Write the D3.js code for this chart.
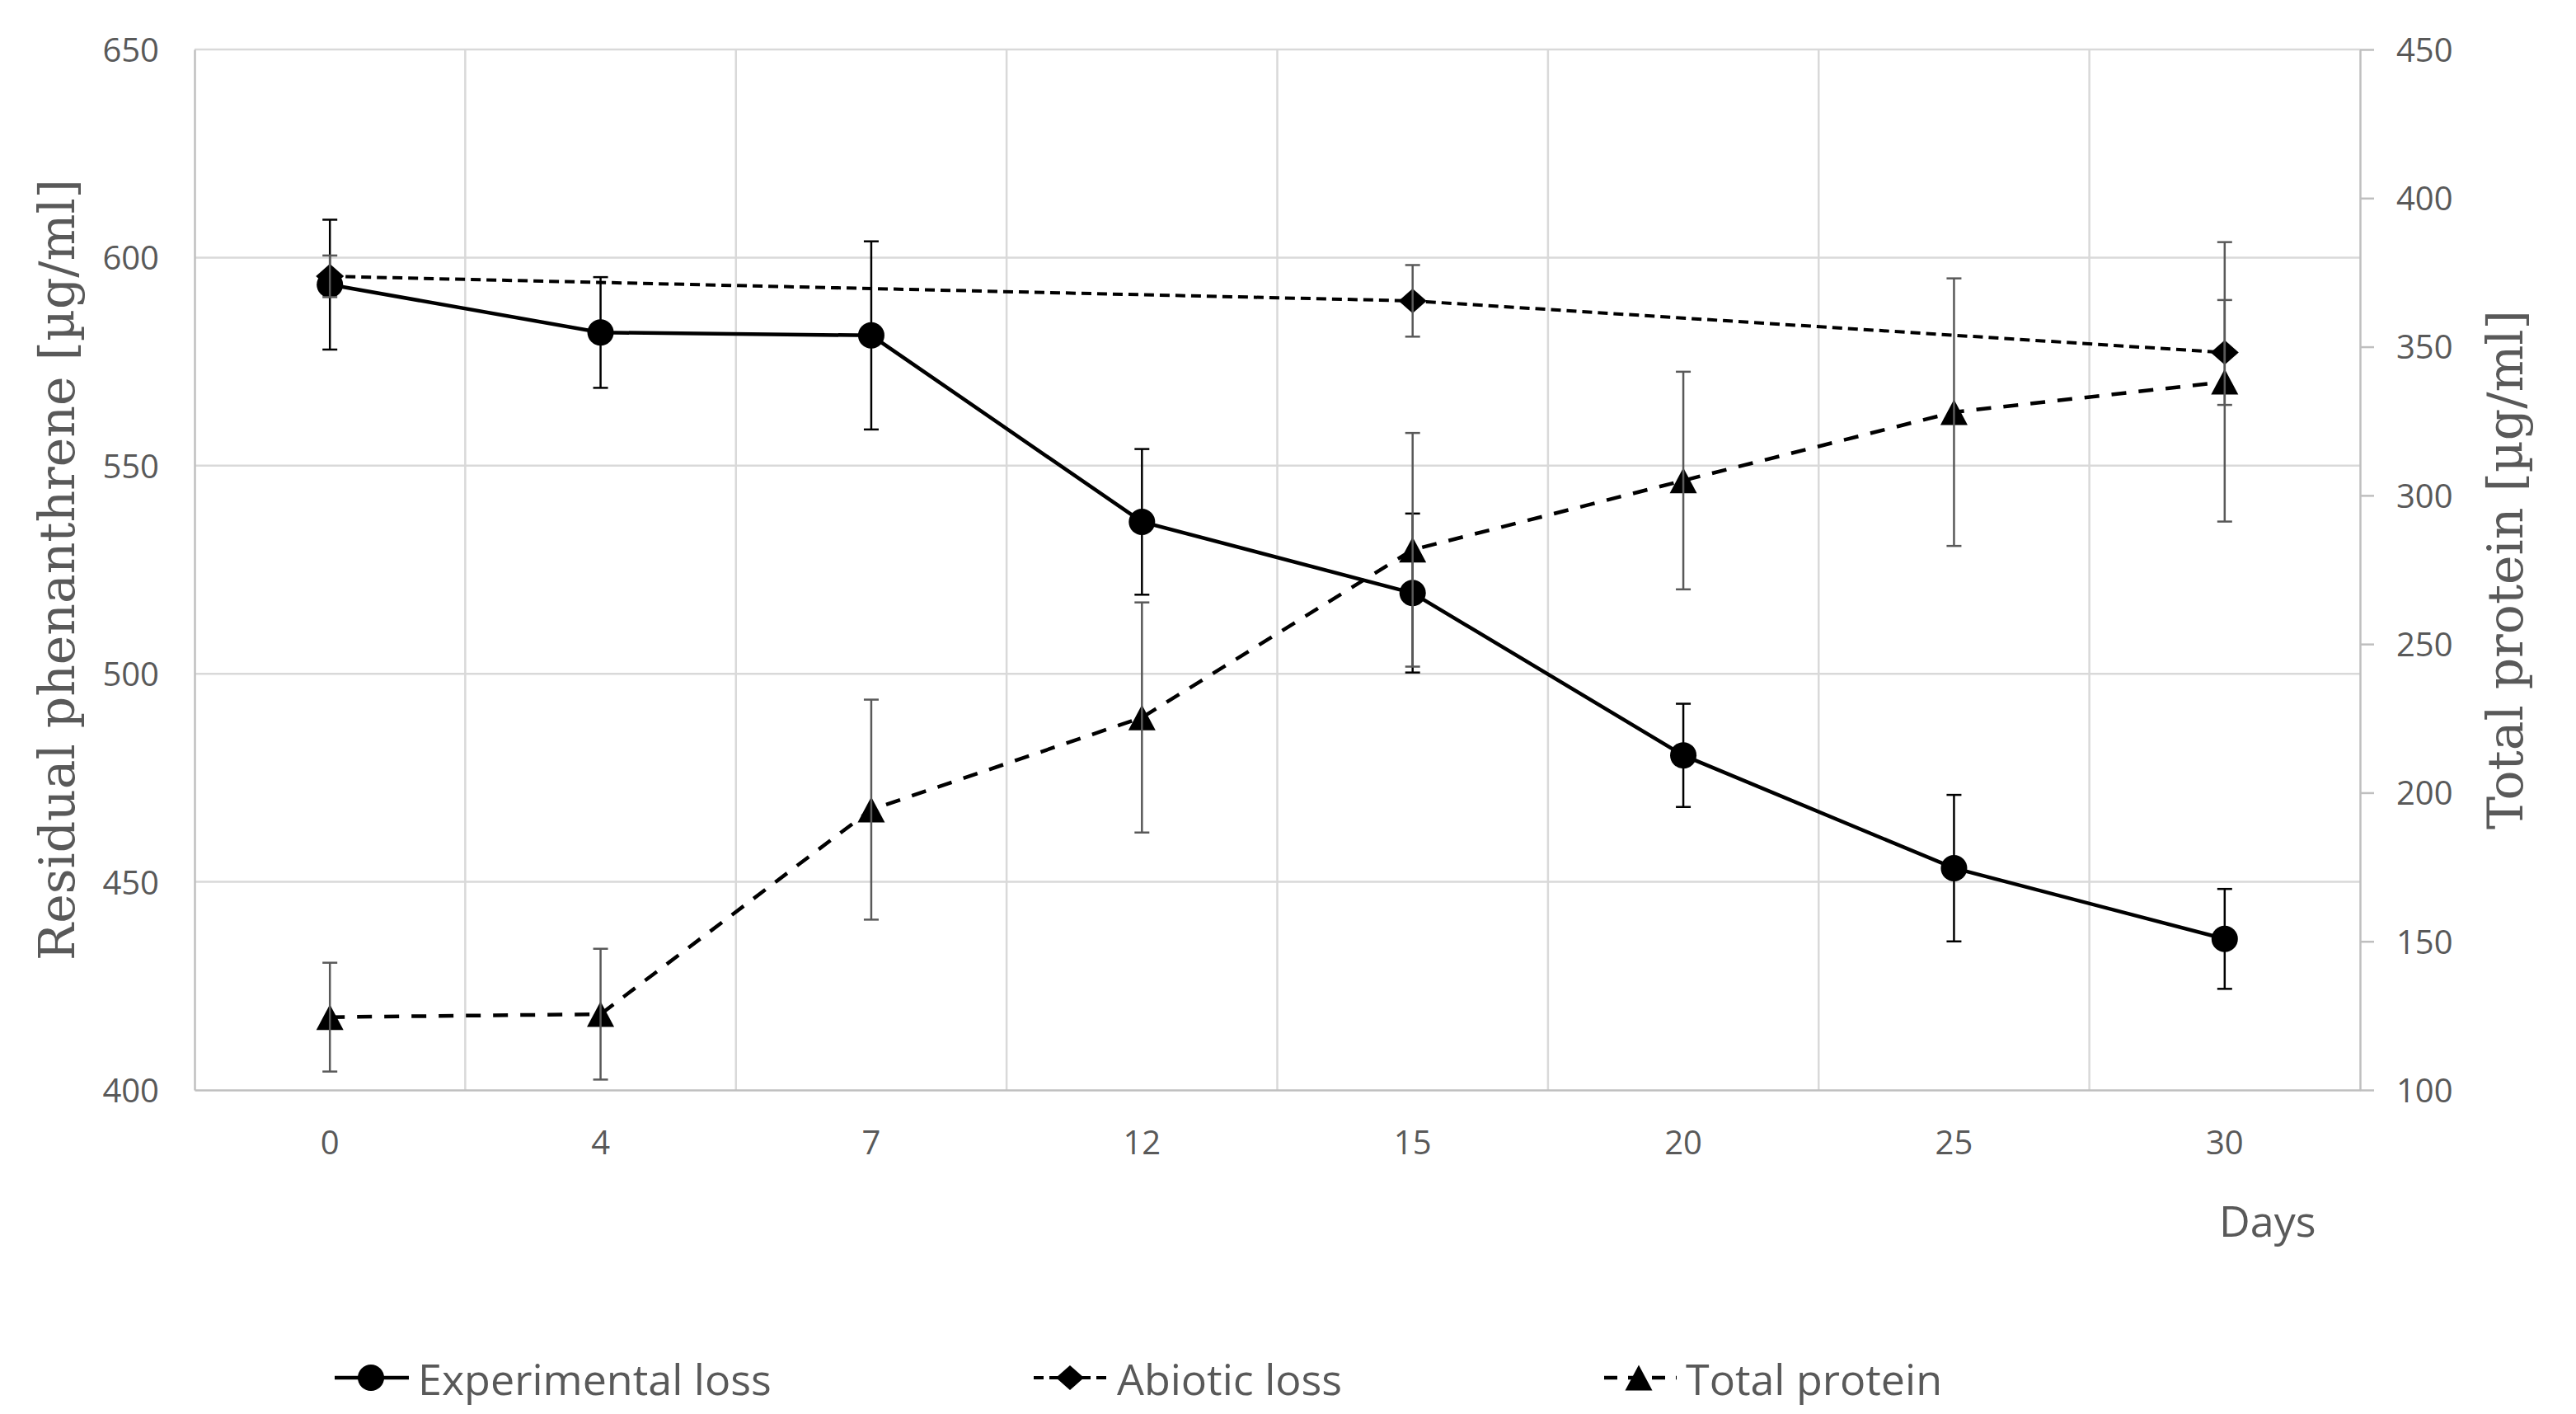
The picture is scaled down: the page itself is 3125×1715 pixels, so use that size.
<!DOCTYPE html>
<html>
<head>
<meta charset="utf-8">
<script src="https://cdn.jsdelivr.net/npm/d3@7"></script>
<style>
  html, body { margin: 0; padding: 0; background: #fff; }
  svg { display: block; }
</style>
</head>
<body>
<svg id="chart" width="3125" height="1715"></svg>
<script>
// ---------- data ----------
const days = ["0", "4", "7", "12", "15", "20", "25", "30"];
const experimentalLoss    = [593.5, 582, 581.3, 536.5, 519.4, 480.4, 453.3, 436.3];
const experimentalLossErr = [15.6, 13.3, 22.6, 17.5, 19.1, 12.4, 17.6, 12.0];
const abioticLoss    = [595.5, null, null, null, 589.6, null, null, 577.2];
const abioticLossErr = [5.0, null, null, null, 8.6, null, null, 12.6];
const totalProtein    = [124.5, 125.5, 194.3, 225.3, 281.7, 305.0, 328.0, 338.2];
const totalProteinErr = [18.3, 22.0, 37.0, 38.7, 39.3, 36.6, 45.0, 47.0];
const leftTicks  = [400, 450, 500, 550, 600, 650];
const rightTicks = [100, 150, 200, 250, 300, 350, 400, 450];
const legendNames = ["Experimental loss", "Abiotic loss", "Total protein"];
const leftTitle  = "Residual phenanthrene [µg/ml]";
const rightTitle = "Total protein [µg/ml]";
const xTitle = "Days";

// ---------- layout ----------
const L = 236, R = 2863, T = 60, B = 1322;
const grey = "#595959", axisCol = "#bfbfbf", gridCol = "#d9d9d9";
const tickFont = "'Open Sans', 'Noto Sans', sans-serif";
const serif = "'DejaVu Serif', serif";

const svg = d3.select("#chart");
const x = d3.scaleBand().domain(days).range([L, R]).padding(0);
const cx = d => x(d) + x.bandwidth() / 2;
const yL = d3.scaleLinear().domain([400, 650]).range([B, T]);
const yR = d3.scaleLinear().domain([100, 450]).range([B, T]);

// gridlines
const grid = svg.append("g");
grid.selectAll(".hg").data(leftTicks.slice(1)).join("line")
  .attr("x1", L).attr("x2", R)
  .attr("y1", d => yL(d)).attr("y2", d => yL(d))
  .attr("stroke", gridCol).attr("stroke-width", 2.5);
grid.selectAll(".vg").data(days.slice(1)).join("line")
  .attr("x1", d => x(d)).attr("x2", d => x(d))
  .attr("y1", T).attr("y2", B)
  .attr("stroke", gridCol).attr("stroke-width", 2.5);

// left axis
const gLeft = svg.append("g").attr("transform", `translate(${L},0)`)
  .call(d3.axisLeft(yL).tickValues(leftTicks).tickSize(0).tickPadding(43));
gLeft.select(".domain").attr("stroke", axisCol).attr("stroke-width", 2.5);
gLeft.selectAll("text").attr("font-family", tickFont).attr("font-size", 40)
  .attr("fill", grey).attr("dy", "0.36em");

// right axis
const gRight = svg.append("g").attr("transform", `translate(${R},0)`)
  .call(d3.axisRight(yR).tickValues(rightTicks).tickSize(17).tickSizeOuter(0).tickPadding(27));
gRight.select(".domain").attr("stroke", axisCol).attr("stroke-width", 2.5);
gRight.selectAll(".tick line").attr("stroke", axisCol).attr("stroke-width", 2.5);
gRight.selectAll("text").attr("font-family", tickFont).attr("font-size", 40)
  .attr("fill", grey).attr("dy", "0.36em");

// bottom axis
const gBottom = svg.append("g").attr("transform", `translate(0,${B})`)
  .call(d3.axisBottom(x).tickSize(0).tickSizeOuter(0));
gBottom.select(".domain").attr("stroke", axisCol).attr("stroke-width", 2.5);
gBottom.selectAll("text").attr("font-family", tickFont).attr("font-size", 40)
  .attr("fill", grey).attr("dy", null).attr("y", 78);

// axis titles
svg.append("text").text(leftTitle)
  .attr("transform", `translate(90,${(T + B) / 2}) rotate(-90)`)
  .attr("text-anchor", "middle").attr("font-family", serif).attr("font-size", 60).attr("fill", grey);
svg.append("text").text(rightTitle)
  .attr("transform", `translate(3060,${(T + B) / 2}) rotate(-90)`)
  .attr("text-anchor", "middle").attr("font-family", serif).attr("font-size", 60).attr("fill", grey);
svg.append("text").text(xTitle)
  .attr("x", 2692).attr("y", 1500)
  .attr("font-family", tickFont).attr("font-size", 52).attr("fill", grey);

// marker shapes
const circlePath = "M0,-16A16,16 0 1,1 0,16A16,16 0 1,1 0,-16Z";
const diamondPath = "M0,-15L17,0L0,15L-17,0Z";
const trianglePath = "M0,-15.5L16.5,15.5L-16.5,15.5Z";

function drawSeries(values, errs, yScale, opts) {
  const g = svg.append("g");
  const pts = days.map((d, i) => ({ d, v: values[i], e: errs[i] })).filter(p => p.v != null);
  const line = d3.line().x(p => cx(p.d)).y(p => yScale(p.v));
  g.append("path").attr("d", line(pts)).attr("fill", "none")
    .attr("stroke", "#000").attr("stroke-width", opts.width)
    .attr("stroke-dasharray", opts.dash || null);
  g.selectAll(".m").data(pts).join("path")
    .attr("d", opts.marker)
    .attr("transform", p => `translate(${cx(p.d)},${yScale(p.v)})`)
    .attr("fill", "#000");
  const eb = g.selectAll(".eb").data(pts).join("g");
  eb.append("line")
    .attr("x1", p => cx(p.d)).attr("x2", p => cx(p.d))
    .attr("y1", p => yScale(p.v + p.e)).attr("y2", p => yScale(p.v - p.e))
    .attr("stroke", opts.errCol).attr("stroke-width", 2.5);
  [1, -1].forEach(s => {
    eb.append("line")
      .attr("x1", p => cx(p.d) - 9).attr("x2", p => cx(p.d) + 9)
      .attr("y1", p => yScale(p.v + s * p.e)).attr("y2", p => yScale(p.v + s * p.e))
      .attr("stroke", opts.errCol).attr("stroke-width", 2.5);
  });
}

const styles = [
  { width: 4.5, dash: null, marker: circlePath, errCol: "#000" },
  { width: 4, dash: "12,7", marker: diamondPath, errCol: grey },
  { width: 4.5, dash: "18,15", marker: trianglePath, errCol: grey }
];
drawSeries(experimentalLoss, experimentalLossErr, yL, styles[0]);
drawSeries(abioticLoss, abioticLossErr, yL, styles[1]);
drawSeries(totalProtein, totalProteinErr, yR, styles[2]);

// legend
const legendX = [406, 1254, 1944];
const legendY = 1671;
const lg = svg.append("g");
legendNames.forEach((name, i) => {
  const st = styles[i];
  const x0 = legendX[i];
  lg.append("line").attr("x1", x0).attr("x2", x0 + 90)
    .attr("y1", legendY).attr("y2", legendY)
    .attr("stroke", "#000").attr("stroke-width", st.width)
    .attr("stroke-dasharray", i === 1 ? "12,7" : (i === 2 ? "16,13" : null))
    .attr("stroke-dashoffset", i === 2 ? -2 : 0);
  lg.append("path").attr("d", st.marker)
    .attr("transform", `translate(${x0 + 44},${legendY})`).attr("fill", "#000");
  lg.append("text").text(name)
    .attr("x", x0 + 101).attr("y", legendY + 21)
    .attr("font-family", tickFont).attr("font-size", 52).attr("fill", grey);
});
</script>
</body>
</html>
